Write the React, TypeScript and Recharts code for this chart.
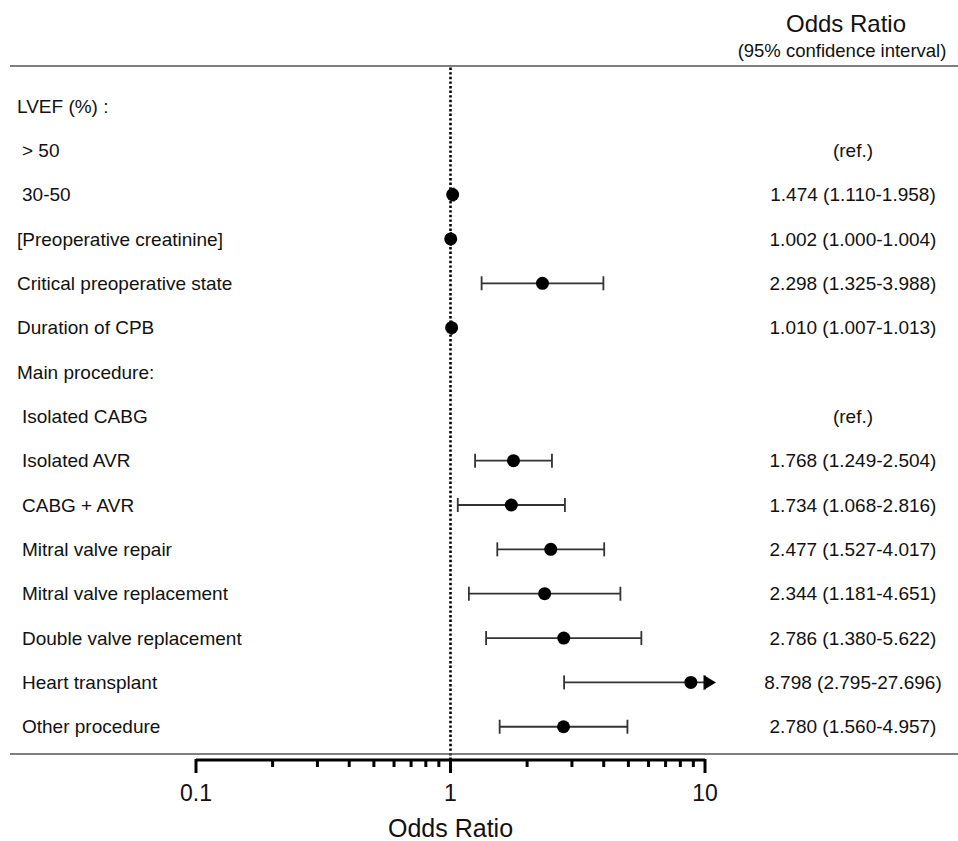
import React from 'react';
import { ScatterChart, Scatter, XAxis, YAxis, ErrorBar, ReferenceLine } from 'recharts';

// rows, top to bottom
const rowLabels = [
  'LVEF (%) :',
  '> 50',
  '30-50',
  '[Preoperative creatinine]',
  'Critical preoperative state',
  'Duration of CPB',
  'Main procedure:',
  'Isolated CABG',
  'Isolated AVR',
  'CABG + AVR',
  'Mitral valve repair',
  'Mitral valve replacement',
  'Double valve replacement',
  'Heart transplant',
  'Other procedure'
];
const rowIndent = [false, true, true, false, false, false, false, true, true, true, true, true, true, true, true];

const orText = [
  '', '(ref.)', '1.474 (1.110-1.958)', '1.002 (1.000-1.004)', '2.298 (1.325-3.988)',
  '1.010 (1.007-1.013)', '', '(ref.)', '1.768 (1.249-2.504)', '1.734 (1.068-2.816)',
  '2.477 (1.527-4.017)', '2.344 (1.181-4.651)', '2.786 (1.380-5.622)',
  '8.798 (2.795-27.696)', '2.780 (1.560-4.957)'
];

// plotted values (as drawn in the figure)
const orPoint = [null, null, 1.02, 1.002, 2.298, 1.01, null, null, 1.768, 1.734, 2.477, 2.344, 2.786, 8.798, 2.78];
const ciLow = [null, null, 1.01, 1.0, 1.325, 1.007, null, null, 1.249, 1.068, 1.527, 1.181, 1.38, 2.795, 1.56];
const ciHigh = [null, null, 1.03, 1.004, 3.988, 1.013, null, null, 2.504, 2.816, 4.017, 4.651, 5.622, 27.696, 4.957];

const xTicks = [0.1, 0.2, 0.3, 0.4, 0.5, 0.6, 0.7, 0.8, 0.9, 1, 2, 3, 4, 5, 6, 7, 8, 9, 10];
const majorTicks = [0.1, 1, 10];
const xMin = 0.1;
const xMax = 10;

const rowIdx = rowLabels.map((_, i) => i);

const points = orPoint
  .map((v, i) => {
    if (v == null) return null;
    const hi = Math.min(ciHigh[i] as number, xMax);
    return { x: v, y: i, err: [v - (ciLow[i] as number), hi - v] };
  })
  .filter(Boolean);

// rows whose upper CI runs past the axis get an arrow at the edge
const arrows = ciHigh
  .map((hi, i) => (hi != null && hi > xMax ? { x: xMax, y: i } : null))
  .filter(Boolean);

const FONT = '"Liberation Sans", Arial, Helvetica, sans-serif';

const XTick = (props: any) => {
  const { x, y, payload } = props;
  const v = payload.value;
  const major = majorTicks.includes(v);
  return (
    <g>
      <line x1={x} x2={x} y1={y - 1} y2={y + (major ? 13 : 7)} stroke="#000" strokeWidth={3} />
      {major && (
        <text x={x} y={y + 41} textAnchor="middle" fontSize={23} fill="#111" fontFamily={FONT}>
          {String(v)}
        </text>
      )}
    </g>
  );
};

// row label on the left, OR (95% CI) text on the right
const RowTick = (props: any) => {
  const { y, payload } = props;
  const i = payload.value;
  return (
    <g>
      <text x={rowIndent[i] ? 22 : 17} y={y} dy="0.35em" textAnchor="start" fontSize={19} fill="#111" fontFamily={FONT}>
        {rowLabels[i]}
      </text>
      {orText[i] && (
        <text x={853} y={y} dy="0.35em" textAnchor="middle" fontSize={19} fill="#111" fontFamily={FONT}>
          {orText[i]}
        </text>
      )}
    </g>
  );
};

const Dot = (props: any) => <circle cx={props.cx} cy={props.cy} r={6.5} fill="#000" />;

const Arrow = (props: any) => {
  const { cx, cy } = props;
  return <path d={`M${cx - 1.5},${cy - 7.5} L${cx + 11},${cy} L${cx - 1.5},${cy + 7.5} Z`} fill="#000" />;
};

export default function App() {
  return (
    <div style={{ position: 'absolute', left: 0, top: 0, width: 958, height: 841, background: '#fff', fontFamily: FONT }}>
      <ScatterChart width={958} height={841} margin={{ top: 66, right: 253, bottom: 0, left: 0 }} style={{ fontFamily: FONT }}>
        <XAxis
          dataKey="x"
          type="number"
          scale="log"
          domain={[xMin, xMax]}
          ticks={xTicks}
          interval={0}
          height={81}
          tickSize={0}
          tickMargin={0}
          tickLine={false}
          axisLine={{ stroke: '#000', strokeWidth: 3 }}
          tick={(p: any) => <XTick {...p} />}
          label={{ value: 'Odds Ratio', position: 'insideBottom', offset: 4, fontSize: 25, fill: '#111' }}
        />
        <YAxis
          yAxisId="left"
          dataKey="y"
          type="number"
          domain={[-0.9, 14.75]}
          reversed
          ticks={rowIdx}
          interval={0}
          width={196}
          axisLine={false}
          tickLine={false}
          tick={(p: any) => <RowTick {...p} />}
        />
        <ReferenceLine x={1} yAxisId="left" stroke="#000" strokeWidth={2.6} strokeDasharray="2.4 2.2" />
        <Scatter data={points as any[]} yAxisId="left" shape={(p: any) => <Dot {...p} />} isAnimationActive={false}>
          <ErrorBar dataKey="err" direction="x" width={7} stroke="#333" strokeWidth={1.8} isAnimationActive={false} />
        </Scatter>
        <Scatter data={arrows as any[]} yAxisId="left" shape={(p: any) => <Arrow {...p} />} isAnimationActive={false} />
      </ScatterChart>
      <svg width={958} height={841} style={{ position: 'absolute', left: 0, top: 0, pointerEvents: 'none' }}>
        <line x1={10} x2={958} y1={66} y2={66} stroke="#555" strokeWidth={1.5} />
        <line x1={10} x2={958} y1={754} y2={754} stroke="#555" strokeWidth={1.5} />
        <text x={846} y={32} textAnchor="middle" fontSize={24} fill="#111" fontFamily={FONT}>Odds Ratio</text>
        <text x={842} y={57} textAnchor="middle" fontSize={18.5} fill="#111" fontFamily={FONT}>(95% confidence interval)</text>
      </svg>
    </div>
  );
}
